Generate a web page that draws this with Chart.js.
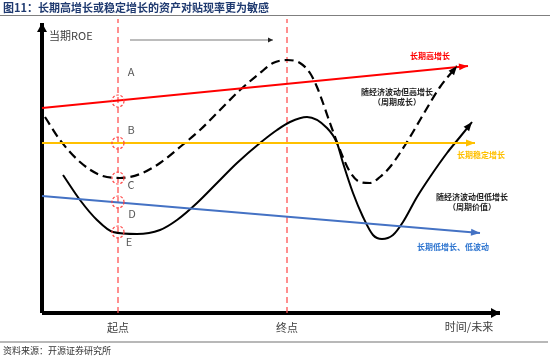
<!DOCTYPE html>
<html><head><meta charset="utf-8">
<script src="https://cdn.jsdelivr.net/npm/chart.js@4/dist/chart.umd.min.js"></script>
<style>html,body{margin:0;padding:0;background:#fff;}#wrap{width:550px;height:356px;position:relative;}</style>
</head><body><div id="wrap"><canvas id="c" width="550" height="356"></canvas></div>
<script>
// Conceptual units: time along x, ROE along y, origin at the axes' intersection
const titleText = '图11：长期高增长或稳定增长的资产对贴现率更为敏感';
const sourceText = '资料来源：开源证券研究所';
const yAxisLabel = '当期ROE';
const xAxisLabel = '时间/未来';
const timeMarks = [76, 245];
const timeMarkLabels = ['起点', '终点'];
const axisTimeEnd = 458;
const axisROEEnd = 290;
const markROEEnd = 294;
const progressTime = [88, 231];
const progressROE = [273, 273];

const highGrowthTime = [0, 426];
const highGrowthROE = [205, 247];
const stableTime = [0, 433];
const stableROE = [170, 170];
const lowGrowthTime = [0, 438];
const lowGrowthROE = [117, 80];
const cycGrowthTime = [3,18,38,58,78,98,118,138,158,178,198,218,231,245,258,268,275,281,288,298,308,318,328,338,348,358,368,378,388,398,415];
const cycGrowthROE  = [196,173,151,138,135,139,150,166,183,203,223,240,250,253,250,240,226,210,190,163,141,131,130,136,146,160,176,193,210,226,247];
const cycValueTime = [21,38,55,71,95,118,135,155,175,195,218,235,248,265,285,295,301,311,321,331,340,351,361,375,388,405,418,430];
const cycValueROE  = [138,113,93,81,79,83,93,110,130,150,170,183,191,196,185,170,150,120,96,78,74,78,91,116,136,160,176,191];

const seriesNames = ['长期高增长', '随经济波动但高增长\n（周期成长）', '长期稳定增长', '随经济波动但低增长\n（周期价值）', '长期低增长、低波动'];
const pointLetters = ['A', 'B', 'C', 'D', 'E'];
const letterROE = [212, 170, 135, 111, 81];

const pts = (xs, ys) => xs.map((x, i) => ({x, y: ys[i]}));

const CJK = '"Noto Sans CJK SC", "Noto Sans", sans-serif';

function arrowHead(ctx, x, y, ang, len, wid, color) {
  ctx.save(); ctx.translate(x, y); ctx.rotate(ang);
  ctx.beginPath(); ctx.moveTo(0, 0); ctx.lineTo(-len, wid / 2); ctx.lineTo(-len, -wid / 2); ctx.closePath();
  ctx.fillStyle = color; ctx.fill(); ctx.restore();
}

const decor = {
  id: 'decor',
  afterDatasetsDraw(chart) {
    const ctx = chart.ctx;
    const xs = chart.scales.x, ys = chart.scales.y;
    // arrowheads
    chart.data.datasets.forEach((ds, i) => {
      if (!ds.arrow) return;
      const meta = chart.getDatasetMeta(i);
      const n = meta.data.length;
      const el = meta.data[n - 1];
      let px, py;
      if (el.cp1x !== undefined && (Math.abs(el.cp1x - el.x) > 0.01 || Math.abs(el.cp1y - el.y) > 0.01)) { px = el.cp1x; py = el.cp1y; }
      else { px = meta.data[n - 2].x; py = meta.data[n - 2].y; }
      const ang = Math.atan2(el.y - py, el.x - px);
      arrowHead(ctx, el.x, el.y, ang, ds.arrow[0], ds.arrow[1], ds.arrowColor || ds.borderColor);
    });
    // dashed circles
    const cmeta = chart.getDatasetMeta(chart.data.datasets.findIndex(d => d.circles));
    ctx.save();
    ctx.strokeStyle = 'rgba(255,60,60,0.95)'; ctx.lineWidth = 1.2; ctx.setLineDash([2.5, 1.8]);
    cmeta.data.forEach(p => { ctx.beginPath(); ctx.arc(p.x, p.y, 6, 0, Math.PI * 2); ctx.stroke(); });
    ctx.restore();
    // letters
    const letterOff = [[13, -29], [13, -13], [13, 7], [14, 12], [11, 10]];
    ctx.save();
    ctx.font = '11px ' + CJK; ctx.fillStyle = '#595959'; ctx.textAlign = 'center'; ctx.textBaseline = 'middle';
    cmeta.data.forEach((p, i) => ctx.fillText(pointLetters[i], p.x + letterOff[i][0], p.y + letterOff[i][1]));
    ctx.restore();
    // series labels anchored at series ends
    const lab = [
      {ds: 0, off: [-38, -10], color: '#FF0000'},
      {ds: 3, off: [-60, 26], color: '#222222'},
      {ds: 1, off: [6, 12], color: '#FFC000'},
      {ds: 4, off: [0, 75], color: '#222222'},
      {ds: 2, off: [-27, 14], color: '#2E75D0'}
    ];
    ctx.save();
    ctx.font = 'bold 8px ' + CJK; ctx.textAlign = 'center'; ctx.textBaseline = 'middle';
    lab.forEach((l, i) => {
      const m = chart.getDatasetMeta(l.ds);
      const e = m.data[m.data.length - 1];
      ctx.fillStyle = l.color;
      seriesNames[i].split('\n').forEach((t, k) => ctx.fillText(t, e.x + l.off[0], e.y + l.off[1] + k * 10));
    });
    ctx.restore();
    // axis texts
    const x0 = xs.getPixelForValue(0), y0 = ys.getPixelForValue(0);
    ctx.save();
    ctx.fillStyle = '#404040'; ctx.font = '11px ' + CJK; ctx.textBaseline = 'middle';
    ctx.textAlign = 'left';
    ctx.fillText(yAxisLabel, x0 + 7, ys.getPixelForValue(axisROEEnd) + 13);
    ctx.textAlign = 'center';
    timeMarks.forEach((t, i) => ctx.fillText(timeMarkLabels[i], xs.getPixelForValue(t), y0 + 15));
    ctx.fillText(xAxisLabel, xs.getPixelForValue(axisTimeEnd) - 31, y0 + 14);
    ctx.restore();
  },
  afterDraw(chart) {
    const ctx = chart.ctx;
    ctx.save();
    ctx.fillStyle = '#1F3A70'; ctx.font = 'bold 11px ' + CJK; ctx.textBaseline = 'middle'; ctx.textAlign = 'left';
    ctx.fillText(titleText, 3, 8);
    ctx.strokeStyle = '#7F7F7F'; ctx.lineWidth = 1.2;
    ctx.beginPath(); ctx.moveTo(0, 15.5); ctx.lineTo(550, 15.5); ctx.stroke();
    ctx.strokeStyle = '#A0A0A0'; ctx.lineWidth = 1.5;
    ctx.beginPath(); ctx.moveTo(0, 342); ctx.lineTo(548, 342); ctx.stroke();
    ctx.fillStyle = '#333333'; ctx.font = '9px ' + CJK;
    ctx.fillText(sourceText, 3, 351);
    ctx.restore();
  }
};

const datasets = [
  {data: pts(highGrowthTime, highGrowthROE), borderColor: '#FF0000', borderWidth: 2, arrow: [9, 7]},
  {data: pts(stableTime, stableROE), borderColor: '#FFC000', borderWidth: 2, arrow: [9, 7]},
  {data: pts(lowGrowthTime, lowGrowthROE), borderColor: '#4472C4', borderWidth: 2, arrow: [9, 7]},
  {data: pts(cycGrowthTime, cycGrowthROE), borderColor: '#000000', borderWidth: 2.2, borderDash: [9, 5], cubicInterpolationMode: 'monotone', arrow: [9, 7]},
  {data: pts(cycValueTime, cycValueROE), borderColor: '#000000', borderWidth: 2, cubicInterpolationMode: 'monotone', arrow: [9, 7]},
  {data: pts([timeMarks[0], timeMarks[0]], [0, markROEEnd]), borderColor: 'rgba(255,80,80,0.85)', borderWidth: 1.5, borderDash: [6, 4]},
  {data: pts([timeMarks[1], timeMarks[1]], [0, markROEEnd]), borderColor: 'rgba(255,80,80,0.85)', borderWidth: 1.5, borderDash: [6, 4]},
  {data: pts(progressTime, progressROE), borderColor: '#A6A6A6', borderWidth: 1.5, arrow: [5, 5], arrowColor: '#222222'},
  {data: pts([0, axisTimeEnd], [0, 0]), borderColor: '#000000', borderWidth: 4, arrow: [9, 10]},
  {data: pts([0, 0], [0, axisROEEnd]), borderColor: '#000000', borderWidth: 4, arrow: [9, 10]},
  {data: pts(pointLetters.map(() => timeMarks[0]), letterROE), showLine: false, pointRadius: 0, circles: true}
];
datasets.forEach(d => { d.pointRadius = 0; d.fill = false; });

new Chart(document.getElementById('c'), {
  type: 'line',
  data: {datasets},
  options: {
    responsive: false, animation: false, events: [],
    layout: {padding: 0},
    scales: {
      x: {type: 'linear', min: -42, max: 508, display: false},
      y: {type: 'linear', min: -43, max: 313, display: false}
    },
    plugins: {legend: {display: false}, tooltip: {enabled: false}}
  },
  plugins: [decor]
});
</script></body></html>
